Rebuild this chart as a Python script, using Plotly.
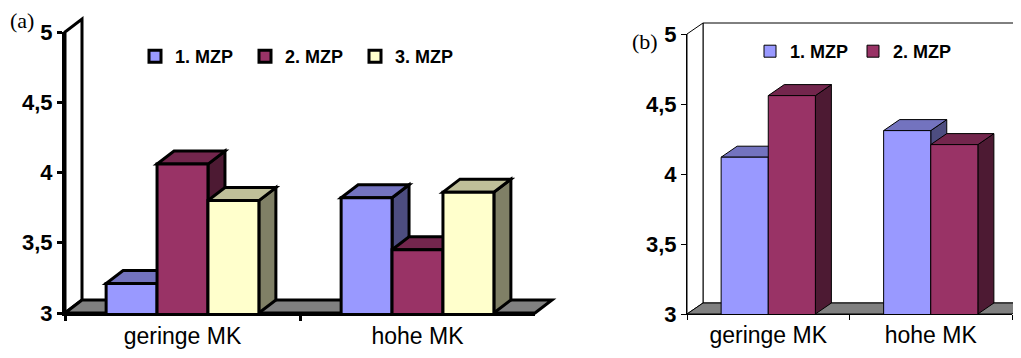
import plotly.graph_objects as go

# ---------------- data ----------------
categories = ["geringe MK", "hohe MK"]
series_a = ["1. MZP", "2. MZP", "3. MZP"]
mzp1_a = [3.21, 3.82]
mzp2_a = [4.06, 3.45]
mzp3_a = [3.80, 3.86]
series_b = ["1. MZP", "2. MZP"]
mzp1_b = [4.12, 4.31]
mzp2_b = [4.56, 4.21]
y_tickvals = [3, 3.5, 4, 4.5, 5]
y_ticktext = ["3", "3,5", "4", "4,5", "5"]

# ---------------- styles ----------------
front_cols = ["#9999FF", "#993366", "#FFFFCC"]
top_cols = ["#7373BF", "#73264D", "#BFBF99"]
side_cols = ["#4D4D80", "#4D1A33", "#808066"]

W, H = 1021, 358
OFF = 8  # page body margin: the figure is drawn 8 px right/down in the window
YMIN, YMAX = 3, 5
XMIN, XMAX = -0.5, 1.5


def fx(px):  # window pixel -> paper x
    return (px - OFF) / W


def fy(py):  # window pixel -> paper y
    return 1 - (py - OFF) / H


# panel geometry in window pixels (front plane)
panels = {
    "a": dict(x0=65, x1=535, ytop=32, ybot=313, dx=17, dy=13, lw=3, group=0.65,
              xa="x", ya="y", legend="legend"),
    "b": dict(x0=687, x1=1012, ytop=34, ybot=314, dx=16, dy=11, lw=1, group=0.58,
              xa="x2", ya="y2", legend="legend2"),
}

fig = go.Figure()
shapes = []


def add_panel(key, names, series):
    p = panels[key]
    n = len(series)
    w = p["group"] / n
    pw = p["x1"] - p["x0"]
    ph = p["ybot"] - p["ytop"]
    dx, dy, lw = p["dx"], p["dy"], p["lw"]
    for k, (name, vals) in enumerate(zip(names, series)):
        off = -p["group"] / 2 + k * w
        fig.add_trace(go.Bar(
            x=categories, y=vals, name=name, width=w, offset=off,
            marker=dict(color=front_cols[k], line=dict(color="black", width=lw)),
            xaxis=p["xa"], yaxis=p["ya"], legend=p["legend"],
        ))
    base = dict(type="path", xref="paper", yref="paper", xsizemode="pixel",
                ysizemode="pixel", xanchor=fx(p["x0"]), yanchor=fy(p["ybot"]), layer="below")
    if key == "b":
        shapes.append(dict(base, path=f"M{dx},{dy} L{dx},{ph + dy} L{pw + dx},{ph + dy} L{pw + dx},{dy} Z",
                           fillcolor="white", line=dict(color="black", width=lw)))
    shapes.append(dict(base, path=f"M0,0 L0,{ph} L{dx},{ph + dy} L{dx},{dy} Z",
                       fillcolor="white", line=dict(color="black", width=lw)))
    shapes.append(dict(base, path=f"M0,0 L{pw},0 L{pw + dx},{dy} L{dx},{dy} Z",
                       fillcolor="#808080", line=dict(color="black", width=lw)))
    # 3D faces of bars, anchored on data coordinates
    wpx = w * pw / (XMAX - XMIN)
    for i in range(len(categories)):
        for k, vals in enumerate(series):
            v = vals[i]
            off = -p["group"] / 2 + k * w
            xl = i + off
            xr = xl + w
            hpx = (v - YMIN) / (YMAX - YMIN) * ph
            fb = dict(type="path", xref=p["xa"], yref=p["ya"], xsizemode="pixel",
                      ysizemode="pixel", layer="below")
            shapes.append(dict(fb, xanchor=xr, yanchor=v,
                               path=f"M0,0 L{dx},{dy} L{dx},{dy - hpx} L0,{-hpx} Z",
                               fillcolor=side_cols[k], line=dict(color="black", width=lw)))
            shapes.append(dict(fb, xanchor=xl, yanchor=v,
                               path=f"M0,0 L{wpx},0 L{wpx + dx},{dy} L{dx},{dy} Z",
                               fillcolor=top_cols[k], line=dict(color="black", width=lw)))


add_panel("a", series_a, [mzp1_a, mzp2_a, mzp3_a])
add_panel("b", series_b, [mzp1_b, mzp2_b])


def xdom(p):
    return [fx(p["x0"]), fx(p["x1"])]


def ydom(p):
    return [fy(p["ybot"]), fy(p["ytop"])]


pa, pb = panels["a"], panels["b"]
cat_font = dict(family="Liberation Sans, Arial", size=23, color="black")
tick_font = dict(family="Liberation Sans, Arial", size=22, color="black", weight="bold")
leg_font = dict(family="Liberation Sans, Arial", size=18, color="black", weight="bold")

common_x = dict(type="category", range=[XMIN, XMAX], showgrid=False, showline=True,
                linecolor="black", ticks="outside", ticklen=5, tickcolor="black",
                tickson="boundaries", tickfont=cat_font, zeroline=False, fixedrange=True,
                automargin=False)
common_y = dict(range=[YMIN, YMAX], showgrid=False, showline=True, linecolor="black",
                ticks="outside", ticklen=5, tickcolor="black", tickvals=y_tickvals,
                ticktext=y_ticktext, tickfont=tick_font, zeroline=False, automargin=False)

fig.update_layout(
    width=W, height=H, margin=dict(l=0, r=0, t=0, b=0, pad=0, autoexpand=False),
    paper_bgcolor="white", plot_bgcolor="rgba(0,0,0,0)",
    barmode="overlay", showlegend=True,
    xaxis=dict(common_x, domain=xdom(pa), anchor="y", linewidth=pa["lw"], tickwidth=pa["lw"]),
    yaxis=dict(common_y, domain=ydom(pa), anchor="x", linewidth=pa["lw"], tickwidth=pa["lw"]),
    xaxis2=dict(common_x, domain=xdom(pb), anchor="y2", linewidth=pb["lw"], tickwidth=pb["lw"]),
    yaxis2=dict(common_y, domain=ydom(pb), anchor="x2", linewidth=pb["lw"], tickwidth=pb["lw"]),
    legend=dict(orientation="h", x=fx(135), y=fy(38), xanchor="left", yanchor="top",
                font=leg_font, bgcolor="rgba(0,0,0,0)", entrywidth=65, entrywidthmode="pixels",
                traceorder="normal"),
    legend2=dict(orientation="h", x=fx(750), y=fy(33), xanchor="left", yanchor="top",
                 font=leg_font, bgcolor="rgba(0,0,0,0)", entrywidth=58, entrywidthmode="pixels",
                 traceorder="normal"),
    shapes=shapes,
    annotations=[
        dict(text="(a)", x=fx(22), y=fy(21), xref="paper", yref="paper", showarrow=False,
             xanchor="center", yanchor="middle",
             font=dict(family="Liberation Serif, Times New Roman", size=22, color="black")),
        dict(text="(b)", x=fx(645), y=fy(42), xref="paper", yref="paper", showarrow=False,
             xanchor="center", yanchor="middle",
             font=dict(family="Liberation Serif, Times New Roman", size=22, color="black")),
    ],
)

fig.write_html("out.html")
